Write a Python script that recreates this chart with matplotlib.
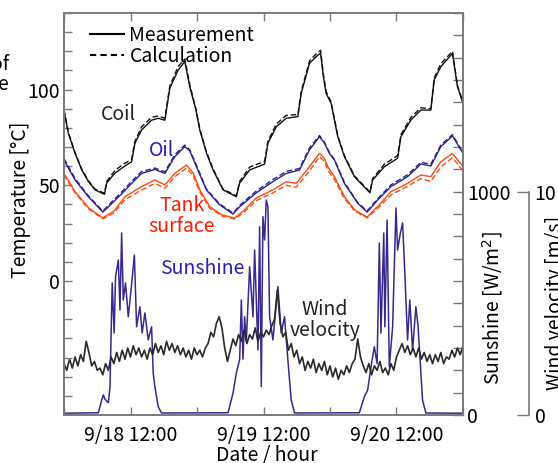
import matplotlib
matplotlib.use("Agg")
import matplotlib.pyplot as plt
from matplotlib.lines import Line2D
import numpy as np

plt.rcParams['font.family'] = ['Noto Sans CJK JP', 'DejaVu Sans']
plt.rcParams['font.size'] = 14

# ---------------- data (time in hours from 9/18 00:00) ----------------
t_coil = [0, 0.8, 2.0, 3.2, 4.4, 5.6, 7.3, 7.7, 9.2, 10.7, 12.2, 12.8, 14.0, 15.8, 17.0, 18.2,
          19.1, 20.6, 21.8, 22.7, 23.8, 24.5, 25.7, 26.9, 28.7, 31.1, 31.7, 33.5, 36.2, 36.8,
          38.3, 40.1, 42.2, 42.8, 44.3, 45.8, 46.3, 46.8, 47.3, 48.2, 49.4, 50.6, 52.4, 55.2,
          55.7, 57.8, 60.2, 60.8, 62.6, 64.4, 66.2, 66.8, 68.0, 70.1, 71.0, 72.0]
coil_meas = [89, 77, 66.7, 58, 52, 47.6, 45.3, 51.2, 56.4, 59.5, 62.3, 72, 78.9, 84, 85, 84,
             100.8, 110.2, 114.6, 101.5, 89.4, 78.9, 66.9, 58, 47.6, 44, 51.2, 58, 61.1, 72,
             80.6, 85, 85.9, 98, 113.7, 118, 119, 106.8, 98, 92.8, 75.4, 65, 54.5, 46.1,
             52.8, 59.7, 64.1, 75.4, 84.1, 89.3, 89.3, 105, 112, 118.9, 101.5, 92.8]
coil_calc = [89.5, 77.5, 67, 58.5, 52.5, 48, 45.8, 52, 57.8, 61, 63.5, 73, 80.5, 85.5, 86.2, 85,
             102, 112, 116, 102.5, 90, 79.5, 67.5, 58.5, 48, 44.5, 52, 59.5, 62.5, 73,
             82, 86.5, 87, 99, 115, 119.5, 120.5, 108, 99, 93.5, 76, 65.5, 55, 46.5,
             53.5, 61, 65.5, 76.5, 85.5, 90.5, 90, 106, 113.5, 120, 102, 93.5]

t_oil = [0, 2.0, 4.4, 7.0, 8.0, 10.4, 12.2, 14.0, 16.4, 18.2, 20.0, 21.8, 22.7, 23.9, 25.7, 28.0,
         30.5, 31.7, 34.7, 37.7, 40.1, 42.5, 44.3, 46.1, 47.0, 47.9, 48.8, 50.6, 53.0, 54.7,
         56.6, 59.0, 62.0, 64.4, 66.2, 68.0, 70.1, 72.0]
oil_meas = [63.2, 52.8, 44, 36, 38.7, 45.5, 51, 56.2, 58.3, 56.2, 65, 70.2, 68, 59.7, 47.6, 40,
            35, 38.8, 46.1, 51.9, 56.2, 58, 68.5, 75.4, 72, 66.7, 63.2, 51, 40.6, 36,
            42.3, 49.3, 54.5, 61.1, 60.1, 70.2, 75.8, 66.7]
oil_calc = [64, 53.5, 44.5, 36.5, 39.5, 46.5, 52, 57.2, 59, 57, 66, 71, 68.5, 60.5, 48, 40.5,
            35.5, 39.5, 47, 53, 57.2, 58.8, 69.5, 76, 72.5, 67, 63.5, 51.5, 41, 36.5,
            43, 50.2, 55.5, 62, 61, 71, 76.5, 67]

t_tank = [0, 2.0, 4.5, 7.0, 9.0, 11.0, 14.0, 16.4, 18.2, 20.0, 22.1, 23.3, 24.5, 26.3, 28.5, 30.8,
          32.5, 34.7, 37.7, 40.1, 41.9, 44.3, 46.1, 47.0, 47.6, 48.8, 50.6, 52.5, 54.7, 56.8,
          59.0, 62.0, 64.4, 66.2, 68.0, 70.1, 72.0]
tank_meas = [56.2, 46.7, 38, 33, 36.5, 44, 49.3, 52.8, 50.2, 56.2, 60.6, 56.5, 47.6, 38.8, 34.5, 32.9,
             37, 43.4, 47.6, 51.9, 51, 59.7, 66.7, 64, 59.7, 54.5, 44, 37, 33.4, 39.5,
             46.7, 51, 55.4, 54.5, 62.3, 66.7, 59.7]
tank_calc = [55.5, 46, 37.5, 32.5, 35.5, 42.5, 47.5, 51, 48.5, 54.5, 59, 55, 46.5, 38, 34, 32.4,
             36, 42, 46, 50, 49, 57.5, 65, 62.5, 58, 53, 43, 36.5, 33, 38.5,
             45, 49.5, 53.5, 52, 59.5, 64.5, 57.5]

t_sun = [0, 6.2, 6.8, 7.1, 7.4, 8.0, 8.3, 8.7, 9.05, 9.3, 9.8, 10.1, 10.4, 10.7, 11.1, 11.6,
         12.1, 12.7, 13.1, 13.7, 14.1, 14.6, 15.2, 15.8, 16.1, 16.4, 17.0, 17.6,
         29.6, 30.5, 31.1, 31.7, 32.0, 32.3, 32.6, 32.9, 33.5, 34.1, 34.4, 35.0, 35.3, 35.6,
         35.9, 36.2, 36.5, 36.8, 37.1, 37.7, 38.6, 39.2, 39.8, 40.4, 41.0, 41.6,
         53.3, 54.2, 54.8, 55.4, 56.0, 56.5, 56.9, 57.2, 57.7, 57.9, 58.3, 58.7, 59.3, 59.9,
         60.2, 60.7, 61.1, 61.5, 62.0, 62.4, 62.9, 63.5, 63.9, 64.4, 64.7, 65.3, 72.0]
sunshine = [8, 10, 67, 90, 70, 55, 127, 591, 367, 619, 694, 470, 815, 515, 591, 440,
            560, 716, 395, 485, 367, 457, 336, 395, 188, 127, 37, 9,
            10, 98, 188, 250, 515, 250, 440, 330, 664, 440, 739, 291, 843, 127,
            888, 784, 963, 930, 440, 336, 575, 367, 440, 246, 67, 9,
            10, 82, 112, 216, 306, 230, 770, 367, 815, 395, 873, 216, 395, 927,
            739, 815, 860, 636, 336, 515, 291, 485, 395, 188, 67, 9, 8]

t_wind = np.arange(0, 72.01, 0.5)
wind = [2.3, 2.0, 2.5, 2.1, 2.6, 2.2, 2.7, 2.4, 3.3, 2.8, 2.2, 2.4, 2.0,
        2.1, 1.8, 2.3, 2.0, 2.6, 2.3, 2.8, 2.4, 2.9, 2.5, 3.0, 2.6,
        3.1, 2.7, 3.0, 2.6, 2.9, 2.5, 3.0, 2.7, 3.2, 2.8, 3.1, 2.7,
        3.3, 2.9, 3.2, 2.8, 3.1, 2.7, 3.0, 2.6, 2.9, 2.5, 3.0, 2.7,
        2.9, 2.6, 3.0, 3.2, 3.7, 3.5, 4.1, 4.4, 3.9, 3.0, 2.4, 2.9,
        3.4, 3.1, 3.6, 3.3, 3.8, 3.2, 3.6, 3.4, 3.9, 3.3, 3.7, 3.5,
        3.8, 3.6, 4.0, 4.3, 5.6, 4.1, 3.5, 3.7, 2.9, 3.2, 2.6, 2.9,
        2.3, 2.6, 2.0, 2.4, 2.1, 2.5, 1.9, 2.3, 2.0, 2.4, 1.8, 2.2,
        1.7, 2.1, 1.6, 2.0, 1.8, 2.2, 1.9, 2.3, 2.5, 3.4, 2.6, 2.2,
        1.9, 2.3, 1.8, 2.2, 2.0, 2.4, 1.9, 2.1, 1.8, 2.3, 2.0, 2.6,
        2.9, 3.2, 2.8, 3.1, 2.7, 3.0, 2.6, 3.0, 2.5, 2.8, 2.4, 2.7,
        2.3, 2.7, 2.4, 2.8, 2.3, 2.6, 2.5, 2.9, 2.6, 3.0, 2.7, 3.1]

x_ticks = [0, 12, 24, 36, 48, 60, 72]
x_ticklabels = ['', '9/18 12:00', '', '9/19 12:00', '', '9/20 12:00', '']

# ---------------- colours ----------------
c_coil = '#111111'
c_oil = '#2e1f8f'
c_tank = '#ff4a10'
c_sun = '#3a2790'
c_wind = '#262b2b'
c_spine = '#7a7a7a'

fig = plt.figure(figsize=(5.58, 4.63), dpi=100)
ax = fig.add_axes([64/558, 1-415/463, 399/558, 402/463])
ax_s = ax.twinx()
ax_w = ax.twinx()

# sunshine / wind behind
ax_s.plot(t_sun, sunshine, color=c_sun, lw=1.1)
ax_w.plot(t_wind, wind, color=c_wind, lw=1.2)

ax.set_zorder(3)
ax.patch.set_visible(False)
ax.plot(t_coil, coil_meas, color=c_coil, lw=1.0)
ax.plot(t_coil, coil_calc, color=c_coil, lw=1.0, ls=(0, (4, 2)))
ax.plot(t_oil, oil_meas, color=c_oil, lw=1.0)
ax.plot(t_oil, oil_calc, color=c_oil, lw=1.0, ls=(0, (4, 2)))
ax.plot(t_tank, tank_meas, color=c_tank, lw=1.0)
ax.plot(t_tank, tank_calc, color=c_tank, lw=1.0, ls=(0, (4, 2)))

ax.set_xlim(0, 72)
ax.set_ylim(-70, 140)
ax_s.set_ylim(0, 1800)
ax_w.set_ylim(0, 18)

# x axis
ax.set_xticks(x_ticks)
ax.set_xticklabels(x_ticklabels)
ax.tick_params(axis='x', which='both', direction='in', length=6, width=1, color=c_spine,
               top=True, pad=7)
# left axis
ax.set_yticks(np.arange(-60, 141, 10))
ax.set_yticklabels(['0' if v == 0 else ('50' if v == 50 else ('100' if v == 100 else ''))
                    for v in np.arange(-60, 141, 10)])
ax.tick_params(axis='y', direction='in', length=6, width=1, color=c_spine, pad=3)
for s in ax.spines.values():
    s.set_color(c_spine)
    s.set_linewidth(1.4)

# sunshine axis
ax_s.set_yticks(np.arange(0, 1801, 100))
ax_s.set_yticklabels(['0' if v == 0 else ('1000' if v == 1000 else '') for v in np.arange(0, 1801, 100)])
ax_s.tick_params(axis='y', direction='in', length=7, width=1, color=c_spine, pad=3)
for s in ax_s.spines.values():
    s.set_visible(False)

# wind axis
for k, s in ax_w.spines.items():
    s.set_visible(k == 'right')
ax_w.spines['right'].set_position(('axes', (529 - 64) / 399))
ax_w.spines['right'].set_bounds(0, 10)
ax_w.spines['right'].set_color(c_spine)
ax_w.spines['right'].set_linewidth(1.2)
ax_w.set_yticks([0, 10])
ax_w.tick_params(axis='y', direction='in', length=9, width=1, color=c_spine, pad=4)

# legend
handles = [Line2D([], [], color='black', lw=1.5),
           Line2D([], [], color='black', lw=1.5, ls=(0, (3, 2)))]
ax.legend(handles, ['Measurement', 'Calculation'], loc='upper left',
          bbox_to_anchor=(0.03, 1.005), frameon=False, handlelength=1.75,
          handletextpad=0.3, labelspacing=0.0, borderpad=0.2)

# annotations
fig.text(118/558, 1-115/463, 'Coil', color='#222222', ha='center', va='center')
fig.text(162/558, 1-150/463, 'Oil', color='#2a1fb0', ha='center', va='center')
fig.text(182/558, 1-216/463, 'Tank\nsurface', color='#ff1a00', ha='center', va='center',
         linespacing=1.0)
fig.text(202/558, 1-268/463, 'Sunshine', color='#2a1fb0', ha='center', va='center')
fig.text(325/558, 1-320/463, 'Wind\nvelocity', color='#222222', ha='center', va='center',
         linespacing=1.0)

# axis labels
fig.text(21/558, 1-200/463, 'Temperature [°C]', rotation=90, ha='center', va='center')
fig.text(493/558, 1-308/463, 'Sunshine [W/m$^2$]', rotation=90, ha='center', va='center')
fig.text(555/558, 1-303/463, 'Wind velocity [m/s]', rotation=90, ha='center', va='center')
fig.text(267/558, 1-455/463, 'Date / hour', ha='center', va='center')

# fragments from neighbouring figure text (cut off in the reference too)
fig.text(9/558, 1-64/463, 'of', ha='right', va='center')
fig.text(9/558, 1-84/463, 'e', ha='right', va='center')

fig.savefig('out.png', dpi=100)
